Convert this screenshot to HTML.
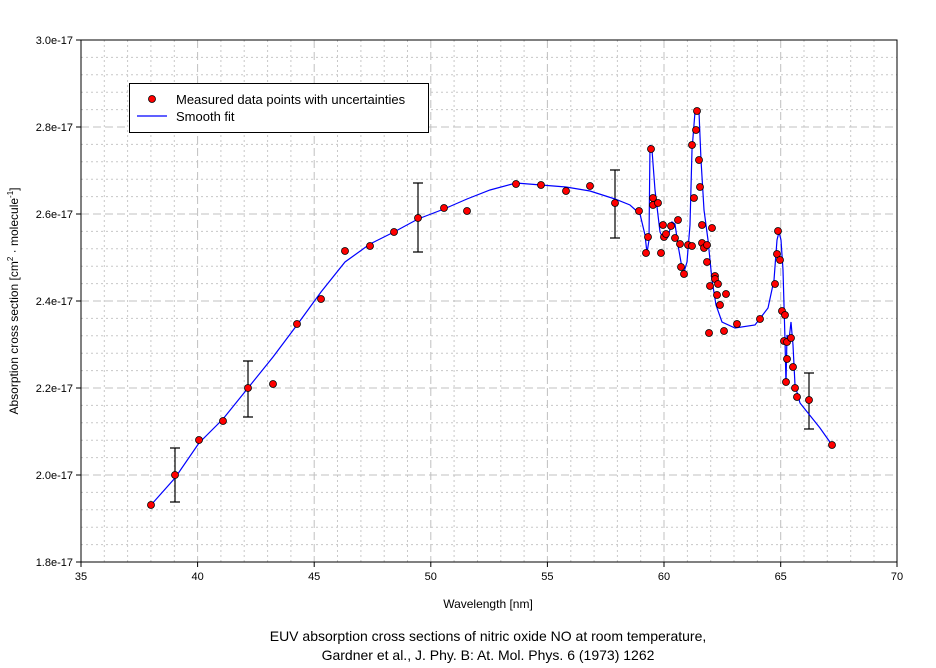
<!DOCTYPE html>
<html><head><meta charset="utf-8"><style>
body{margin:0;background:#fff;}
svg{display:block;font-family:"Liberation Sans",sans-serif;}
</style></head><body>
<svg width="936" height="668" xmlns="http://www.w3.org/2000/svg">
<rect width="936" height="668" fill="#fff"/>
<g stroke="#c8c8c8" stroke-width="1" stroke-dasharray="2,3">
<path d="M104.3 40V562M127.6 40V562M150.9 40V562M174.3 40V562M220.9 40V562M244.2 40V562M267.6 40V562M290.9 40V562M337.5 40V562M360.9 40V562M384.2 40V562M407.5 40V562M454.1 40V562M477.5 40V562M500.8 40V562M524.1 40V562M570.8 40V562M594.1 40V562M617.4 40V562M640.7 40V562M687.4 40V562M710.7 40V562M734 40V562M757.4 40V562M804 40V562M827.3 40V562M850.7 40V562M874 40V562"/>
<path d="M81 57.4H897M81 74.8H897M81 92.2H897M81 109.6H897M81 144.4H897M81 161.8H897M81 179.2H897M81 196.6H897M81 231.4H897M81 248.8H897M81 266.2H897M81 283.6H897M81 318.4H897M81 335.8H897M81 353.2H897M81 370.6H897M81 405.4H897M81 422.8H897M81 440.2H897M81 457.6H897M81 492.4H897M81 509.8H897M81 527.2H897M81 544.6H897"/>
</g>
<g stroke="#c0c0c0" stroke-width="1" stroke-dasharray="8,4">
<path d="M197.6 40V562M314.2 40V562M430.8 40V562M547.4 40V562M664 40V562M780.7 40V562"/>
<path d="M81 127H897M81 214H897M81 301H897M81 388H897M81 475H897"/>
</g>
<rect x="81" y="40" width="816" height="522" fill="none" stroke="#000"/>
<g stroke="#000">
<path d="M76 40H81M76 127H81M76 214H81M76 301H81M76 388H81M76 475H81M76 562H81"/>
<path d="M81 562V567M197.6 562V567M314.2 562V567M430.8 562V567M547.4 562V567M664 562V567M780.7 562V567M897 562V567"/>
</g>
<g font-size="11" text-anchor="end">
<text x="73" y="44">3.0e-17</text><text x="73" y="131">2.8e-17</text><text x="73" y="218">2.6e-17</text><text x="73" y="305">2.4e-17</text><text x="73" y="392">2.2e-17</text><text x="73" y="479">2.0e-17</text><text x="73" y="566">1.8e-17</text>
</g>
<g font-size="11" text-anchor="middle">
<text x="81" y="580">35</text><text x="197.6" y="580">40</text><text x="314.2" y="580">45</text><text x="430.8" y="580">50</text><text x="547.4" y="580">55</text><text x="664" y="580">60</text><text x="780.7" y="580">65</text><text x="897" y="580">70</text>
<text x="488" y="608" font-size="12">Wavelength [nm]</text>
<text x="488" y="641" font-size="14">EUV absorption cross sections of nitric oxide NO at room temperature,</text>
<text x="488" y="660" font-size="14">Gardner et al., J. Phy. B: At. Mol. Phys. 6 (1973) 1262</text>
</g>
<text transform="translate(18,301) rotate(-90)" font-size="12" text-anchor="middle">Absorption cross section [cm<tspan font-size="8" dy="-5">2</tspan><tspan dy="5"> · molecule</tspan><tspan font-size="8" dy="-5">-1</tspan><tspan dy="5">]</tspan></text>
<g stroke="#000" stroke-width="1.2">
<path d="M175 448V502M170 448H180M170 502H180"/>
<path d="M248 361V417M243 361H253M243 417H253"/>
<path d="M418 183V252M413 183H423M413 252H423"/>
<path d="M615 170V238M610 170H620M610 238H620"/>
<path d="M809 373V429M804 373H814M804 429H814"/>
</g>
<polyline fill="none" stroke="#0000ff" stroke-width="1.2" points="151,505 175,478 199,443 223,419 248,388 273,357 297,325 321,292 345,262 370,244 394,232 418,219 444,209 467,199 490,190 516,183 541,185 566,187 590,191 615,199 630,205 640,214 645,235 647,253 649,240 650,145 652,150 655,190 660,232 664,240 668,237 672,222 675,224 678,245 682,268 684,272 687,262 690,225 692,150 695,112 699,112 701,160 704,210 708,240 712,280 716,305 722,322 735,328 755,325 768,308 774,280 777,240 779,232 781,240 783,270 785,340 786,385 787,335 789,340 791,322 793,345 795,385 800,403 820,428 832,445"/>
<g fill="#ff0000" stroke="#000" stroke-width="0.8">
<circle cx="151" cy="505" r="3.5"/><circle cx="175" cy="475" r="3.5"/><circle cx="199" cy="440" r="3.5"/><circle cx="223" cy="421" r="3.5"/><circle cx="248" cy="388" r="3.5"/><circle cx="273" cy="384" r="3.5"/><circle cx="297" cy="324" r="3.5"/><circle cx="321" cy="299" r="3.5"/><circle cx="345" cy="251" r="3.5"/><circle cx="370" cy="246" r="3.5"/><circle cx="394" cy="232" r="3.5"/><circle cx="418" cy="218" r="3.5"/><circle cx="444" cy="208" r="3.5"/><circle cx="467" cy="211" r="3.5"/><circle cx="516" cy="184" r="3.5"/><circle cx="541" cy="185" r="3.5"/><circle cx="566" cy="191" r="3.5"/><circle cx="590" cy="186" r="3.5"/><circle cx="615" cy="203" r="3.5"/><circle cx="639" cy="211" r="3.5"/>
<circle cx="646" cy="253" r="3.5"/><circle cx="648" cy="237" r="3.5"/><circle cx="651" cy="149" r="3.5"/><circle cx="653" cy="198" r="3.5"/><circle cx="653" cy="205" r="3.5"/><circle cx="658" cy="203" r="3.5"/><circle cx="661" cy="253" r="3.5"/><circle cx="663" cy="225" r="3.5"/><circle cx="664" cy="237" r="3.5"/><circle cx="666" cy="234" r="3.5"/><circle cx="671" cy="226" r="3.5"/><circle cx="675" cy="238" r="3.5"/><circle cx="678" cy="220" r="3.5"/><circle cx="680" cy="244" r="3.5"/><circle cx="681" cy="267" r="3.5"/><circle cx="684" cy="274" r="3.5"/><circle cx="688" cy="245" r="3.5"/><circle cx="692" cy="246" r="3.5"/>
<circle cx="692" cy="145" r="3.5"/><circle cx="694" cy="198" r="3.5"/><circle cx="696" cy="130" r="3.5"/><circle cx="697" cy="111" r="3.5"/><circle cx="699" cy="160" r="3.5"/><circle cx="700" cy="187" r="3.5"/><circle cx="702" cy="225" r="3.5"/><circle cx="702" cy="243" r="3.5"/><circle cx="704" cy="248" r="3.5"/><circle cx="707" cy="245" r="3.5"/><circle cx="712" cy="228" r="3.5"/><circle cx="707" cy="262" r="3.5"/><circle cx="715" cy="276" r="3.5"/><circle cx="715" cy="279" r="3.5"/><circle cx="710" cy="286" r="3.5"/><circle cx="718" cy="284" r="3.5"/><circle cx="709" cy="333" r="3.5"/><circle cx="717" cy="295" r="3.5"/><circle cx="720" cy="305" r="3.5"/><circle cx="726" cy="294" r="3.5"/><circle cx="724" cy="331" r="3.5"/><circle cx="737" cy="324" r="3.5"/><circle cx="760" cy="319" r="3.5"/>
<circle cx="775" cy="284" r="3.5"/><circle cx="778" cy="231" r="3.5"/><circle cx="777" cy="254" r="3.5"/><circle cx="780" cy="260" r="3.5"/><circle cx="782" cy="311" r="3.5"/><circle cx="785" cy="315" r="3.5"/><circle cx="784" cy="341" r="3.5"/><circle cx="787" cy="342" r="3.5"/><circle cx="791" cy="338" r="3.5"/><circle cx="787" cy="359" r="3.5"/><circle cx="793" cy="367" r="3.5"/><circle cx="786" cy="382" r="3.5"/><circle cx="795" cy="388" r="3.5"/><circle cx="797" cy="397" r="3.5"/><circle cx="809" cy="400" r="3.5"/><circle cx="832" cy="445" r="3.5"/>
</g>
<rect x="129.5" y="83.5" width="299" height="49" fill="#fff" stroke="#000"/>
<circle cx="152" cy="99" r="3.5" fill="#ff0000" stroke="#000" stroke-width="0.8"/>
<line x1="137" y1="116" x2="167" y2="116" stroke="#0000ff" stroke-width="1.2"/>
<text x="176" y="104" font-size="13">Measured data points with uncertainties</text>
<text x="176" y="121" font-size="13">Smooth fit</text>
</svg>
</body></html>
